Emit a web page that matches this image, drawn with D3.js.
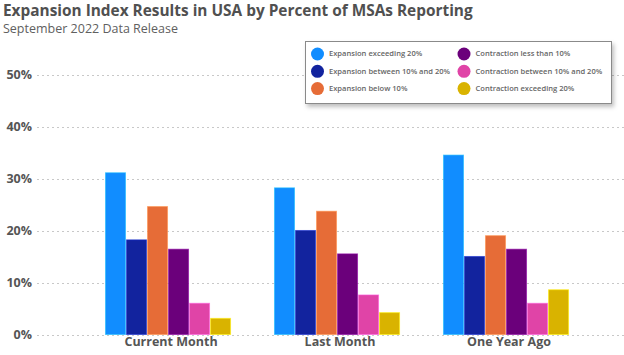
<!DOCTYPE html>
<html><head><meta charset="utf-8">
<script src="https://cdn.jsdelivr.net/npm/d3@7"></script>
<style>
html,body{margin:0;padding:0;background:#fff;}
svg{display:block;font-family:"Segoe UI","Open Sans","Noto Sans",sans-serif;}
</style></head>
<body><svg id="c" width="624" height="355"></svg>
<script>
const categories = ["Current Month", "Last Month", "One Year Ago"];
const seriesNames = ["Expansion exceeding 20%", "Expansion between 10% and 20%", "Expansion below 10%",
  "Contraction less than 10%", "Contraction between 10% and 20%", "Contraction exceeding 20%"];
const expExceed20 = [31.2, 28.3, 34.6];
const expBetween = [18.3, 20.1, 15.1];
const expBelow10 = [24.7, 23.8, 19.1];
const conLess10 = [16.5, 15.6, 16.5];
const conBetween = [6.1, 7.7, 6.1];
const conExceed20 = [3.2, 4.3, 8.7];
const yTicks = [0, 10, 20, 30, 40, 50];
const colors = ["#118DFF", "#12239E", "#E66C37", "#6B007B", "#E044A7", "#D9B300"];

const seriesValues = [expExceed20, expBetween, expBelow10, conLess10, conBetween, conExceed20];

const svg = d3.select("#c");
const gray = "#555";

function fitText(sel, width, startSize) {
  let fs = startSize;
  sel.attr("font-size", fs);
  const w = sel.node().getComputedTextLength();
  fs = fs * width / w;
  sel.attr("font-size", fs);
  return fs;
}

// Title
const title = svg.append("text").attr("x", 3).attr("y", 16).attr("fill", "#505050")
  .attr("font-weight", 700).text("Expansion Index Results in USA by Percent of MSAs Reporting");
fitText(title, 470, 16);
const sub = svg.append("text").attr("x", 3).attr("y", 33).attr("fill", "#606060")
  .text("September 2022 Data Release");
fitText(sub, 175, 13);

const y = d3.scaleLinear().domain([0, 50]).range([334.5, 74.5]);
const x0 = d3.scaleBand().domain(categories).range([62.75, 611.3]).paddingInner(0.254).paddingOuter(0.25);
const x1 = d3.scaleBand().domain(d3.range(6)).range([0, x0.bandwidth()]).padding(0);

// Grid
const yAxis = d3.axisLeft(y).tickValues(yTicks).tickFormat(d => d + "%").tickSize(0).tickPadding(0);
const ga = svg.append("g").attr("transform", "translate(32,0)").call(yAxis);
ga.select(".domain").remove();
ga.selectAll("text").attr("font-size", 12.5).attr("font-weight", 700).attr("fill", gray)
  .attr("font-family", "'Segoe UI','Open Sans','Noto Sans',sans-serif");

svg.append("g").selectAll("line").data(yTicks).join("line")
  .attr("x1", 37).attr("x2", 624).attr("y1", d => Math.round(y(d)) + 0.5).attr("y2", d => Math.round(y(d)) + 0.5)
  .attr("stroke", "#c8c8c8").attr("stroke-width", 1).attr("stroke-dasharray", "2,3");

// Bars
const groups = svg.append("g").selectAll("g").data(categories).join("g")
  .attr("transform", d => `translate(${x0(d)},0)`);
groups.selectAll("rect").data((c, ci) => seriesValues.map((s, si) => ({ si, v: s[ci] }))).join("rect")
  .attr("x", d => x1(d.si) + 0.5)
  .attr("width", x1.bandwidth() - 1)
  .attr("y", d => y(d.v) + 0.5)
  .attr("height", d => y(0) - y(d.v) - 0.5)
  .attr("fill", d => colors[d.si])
  .attr("stroke", d => d3.color(colors[d.si]).brighter(0.8))
  .attr("stroke-opacity", 0.6)
  .attr("stroke-width", 1);

// X labels
const xAxis = d3.axisBottom(x0).tickSize(0).tickPadding(0);
const gx = svg.append("g").attr("transform", "translate(3,337)").call(xAxis);
gx.select(".domain").remove();
gx.selectAll("text").attr("font-size", 12.5).attr("font-weight", 700).attr("fill", gray)
  .attr("font-family", "'Segoe UI','Open Sans','Noto Sans',sans-serif");

// Legend
const defs = svg.append("defs");
const f = defs.append("filter").attr("id", "sh").attr("x", "-5%").attr("y", "-10%").attr("width", "115%").attr("height", "140%");
f.append("feDropShadow").attr("dx", 2).attr("dy", 3).attr("stdDeviation", 2).attr("flood-color", "#000").attr("flood-opacity", 0.25);
svg.append("rect").attr("x", 305.5).attr("y", 41.5).attr("width", 306).attr("height", 62)
  .attr("fill", "#fff").attr("stroke", "#8a8a8a").attr("stroke-width", 1).attr("filter", "url(#sh)");
const lg = svg.append("g").selectAll("g").data(seriesNames).join("g")
  .attr("transform", (d, i) => `translate(${i < 3 ? 317.5 : 464}, ${54 + (i % 3) * 17.3})`);
lg.append("circle").attr("r", 6.5).attr("fill", (d, i) => colors[i]);
const lt = lg.append("text").attr("x", 11.5).attr("dy", "0.32em").attr("font-size", 9).attr("font-weight", 600)
  .attr("fill", "#666").text(d => d);
// size legend font so the longest label fits its column width
const longest = lt.filter((d, i) => i === 4);
const lfs = fitText(longest, 127, 9);
lt.attr("font-size", lfs);
</script></body></html>
